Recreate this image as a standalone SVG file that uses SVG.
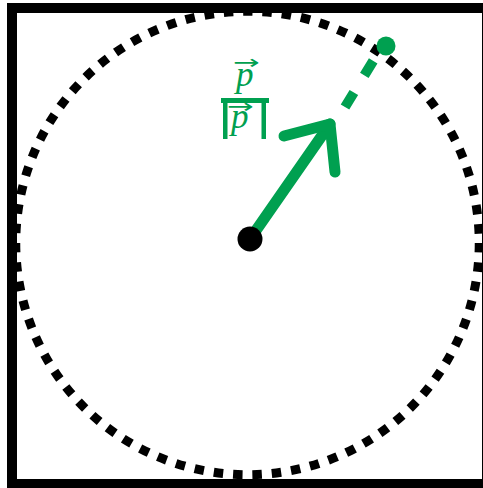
<svg xmlns="http://www.w3.org/2000/svg" width="483" height="488" viewBox="0 0 483 488">
<style>
.g{fill:#00A050;}
.gs{stroke:#00A050;fill:none;}
.mth{font-family:"Liberation Serif","DejaVu Serif",serif;font-style:italic;fill:#00A050;}
.arr{font-family:"DejaVu Sans","Liberation Sans",sans-serif;fill:#00A050;}
</style>
<rect width="483" height="488" fill="#fff"/>
<g id="frame"><rect x="12" y="8" width="475" height="476" fill="none" stroke="#000" stroke-width="10"/></g>
<g id="circle"><circle cx="247.5" cy="243" r="231.75" fill="none" stroke="#000" stroke-width="9" stroke-dasharray="9.5 9.915"/></g>
<g id="connectors">
<line class="gs" x1="250" y1="239" x2="330" y2="124" stroke-width="11" stroke-linecap="round"/>
<polyline class="gs" points="284,136 330,124 335,172" stroke-width="11" stroke-linecap="round" stroke-linejoin="round"/>
<line class="gs" x1="345" y1="107" x2="375" y2="58" stroke-width="10" stroke-dasharray="17 20"/>
</g>
<g id="origin"><circle cx="250" cy="239" r="12.5" fill="#000"/></g>
<g id="tip"><circle class="g" cx="386" cy="46" r="9.5"/></g>
<g id="label">
<text class="mth" x="236" y="86" font-size="35">p</text>
<text class="arr" font-size="32" transform="translate(233 68.8) scale(1 0.6)">→</text>
<rect class="g" x="221" y="98" width="48" height="5"/>
<rect class="g" x="223" y="98" width="4.5" height="41"/>
<rect class="g" x="261.5" y="98" width="4.5" height="41"/>
<text class="mth" x="231" y="128" font-size="35">p</text>
<text class="arr" font-size="32" transform="translate(227 112.8) scale(1 0.6)">→</text>
</g>
</svg>
